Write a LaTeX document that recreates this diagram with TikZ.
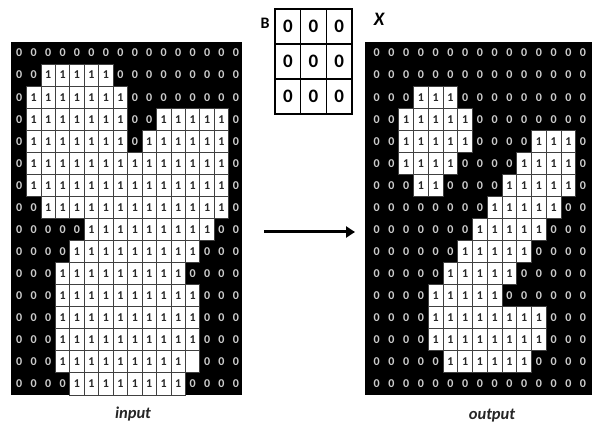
\documentclass[tikz,border=0pt]{standalone}
\usepackage{fontspec}
\setmainfont{Carlito}
\usetikzlibrary{arrows.meta}
\newcommand\cellfont{\bfseries\fontsize{12}{12}\selectfont}
\newcommand\mygrid[4]{%
  \foreach \r/\bits in {#4} {
    \foreach \b [count=\c from 0] in \bits {
      \pgfmathsetmacro\cx{#2+#3*(\c+0.5)}
      \pgfmathsetmacro\cy{42+22.06*(\r+0.5)}
      \ifnum\b=0
        \node[zerocell, minimum width=#3pt] (#1-\r-\c) at (\cx,\cy) {0};
      \else\ifnum\b=1
        \node[onecell, minimum width=#3pt] (#1-\r-\c) at (\cx,\cy) {1};
      \else
        \node[onecell, minimum width=#3pt] (#1-\r-\c) at (\cx,\cy) {};
      \fi\fi
    }
  }%
}
\tikzset{
  onecell/.style={draw=black!75, line width=0.8pt, fill=white, minimum height=22.06pt, inner sep=0pt, text=black!85, font=\cellfont},
  zerocell/.style={minimum height=22.06pt, inner sep=0pt, text=white!80!black, font=\cellfont},
  bcell/.style={draw=black, line width=1.3pt, minimum width=25.7pt, minimum height=35pt, inner sep=0pt, font=\bfseries\fontsize{19}{19}\selectfont},
  gridbg/.style={fill=black},
  lbl/.style={text=black!85, font=\bfseries\itshape\fontsize{16.5}{16.5}\selectfont},
  arrowline/.style={line width=3pt, -{Triangle[length=9pt,width=11pt]}}
}
\begin{document}
\begin{tikzpicture}[x=1pt,y=-1pt]
\useasboundingbox (0,0) rectangle (592,430);
\fill[white] (0,0) rectangle (592,430);
% backgrounds
\fill[gridbg] (11,42) rectangle (242,395);
\fill[gridbg] (365,42) rectangle (592,395);
% input grid
\mygrid{L}{12}{14.45}{
0/{0,0,0,0,0,0,0,0,0,0,0,0,0,0,0,0},
1/{0,0,1,1,1,1,1,0,0,0,0,0,0,0,0,0},
2/{0,1,1,1,1,1,1,1,0,0,0,0,0,0,0,0},
3/{0,1,1,1,1,1,1,1,0,0,1,1,1,1,1,0},
4/{0,1,1,1,1,1,1,1,0,1,1,1,1,1,1,0},
5/{0,1,1,1,1,1,1,1,1,1,1,1,1,1,1,0},
6/{0,1,1,1,1,1,1,1,1,1,1,1,1,1,1,0},
7/{0,0,1,1,1,1,1,1,1,1,1,1,1,1,1,0},
8/{0,0,0,0,0,1,1,1,1,1,1,1,1,1,0,0},
9/{0,0,0,0,1,1,1,1,1,1,1,1,1,0,0,0},
10/{0,0,0,1,1,1,1,1,1,1,1,1,0,0,0,0},
11/{0,0,0,1,1,1,1,1,1,1,1,1,1,0,0,0},
12/{0,0,0,1,1,1,1,1,1,1,1,1,1,0,0,0},
13/{0,0,0,1,1,1,1,1,1,1,1,1,1,0,0,0},
14/{0,0,0,1,1,1,1,1,1,1,1,1,2,0,0,0},
15/{0,0,0,0,1,1,1,1,1,1,1,1,0,0,0,0}}
% output grid
\mygrid{R}{369.3}{14.74}{
0/{0,0,0,0,0,0,0,0,0,0,0,0,0,0,0},
1/{0,0,0,0,0,0,0,0,0,0,0,0,0,0,0},
2/{0,0,0,1,1,1,0,0,0,0,0,0,0,0,0},
3/{0,0,1,1,1,1,1,0,0,0,0,0,0,0,0},
4/{0,0,1,1,1,1,1,0,0,0,0,1,1,1,0},
5/{0,0,1,1,1,1,0,0,0,0,1,1,1,1,0},
6/{0,0,0,1,1,0,0,0,0,1,1,1,1,1,0},
7/{0,0,0,0,0,0,0,0,1,1,1,1,1,0,0},
8/{0,0,0,0,0,0,0,1,1,1,1,1,0,0,0},
9/{0,0,0,0,0,0,1,1,1,1,1,0,0,0,0},
10/{0,0,0,0,0,1,1,1,1,1,0,0,0,0,0},
11/{0,0,0,0,1,1,1,1,1,0,0,0,0,0,0},
12/{0,0,0,0,1,1,1,1,1,1,1,1,0,0,0},
13/{0,0,0,0,1,1,1,1,1,1,1,1,0,0,0},
14/{0,0,0,0,0,1,1,1,1,1,1,0,0,0,0},
15/{0,0,0,0,0,0,0,0,0,0,0,0,0,0,0}}
% structuring element B
\foreach \r in {0,1,2} {
  \foreach \c in {0,1,2} {
    \node[bcell] (B-\r-\c) at ({275+25.7*(\c+0.5)},{9+35*(\r+0.5)}) {0};
  }
}
\node[font=\bfseries\fontsize{16}{16}\selectfont] (lblB) at (265,23) {B};
\node[font=\bfseries\itshape\fontsize{19}{19}\selectfont] (lblX) at (379,19) {X};
% labels
\node[lbl] (lblin) at (133,414) {input};
\node[lbl] (lblout) at (492,416) {output};
% arrow
\coordinate (arrS) at (264,232);
\coordinate (arrE) at (355,232);
\draw[arrowline] (arrS) -- (arrE);
\end{tikzpicture}
\end{document}
